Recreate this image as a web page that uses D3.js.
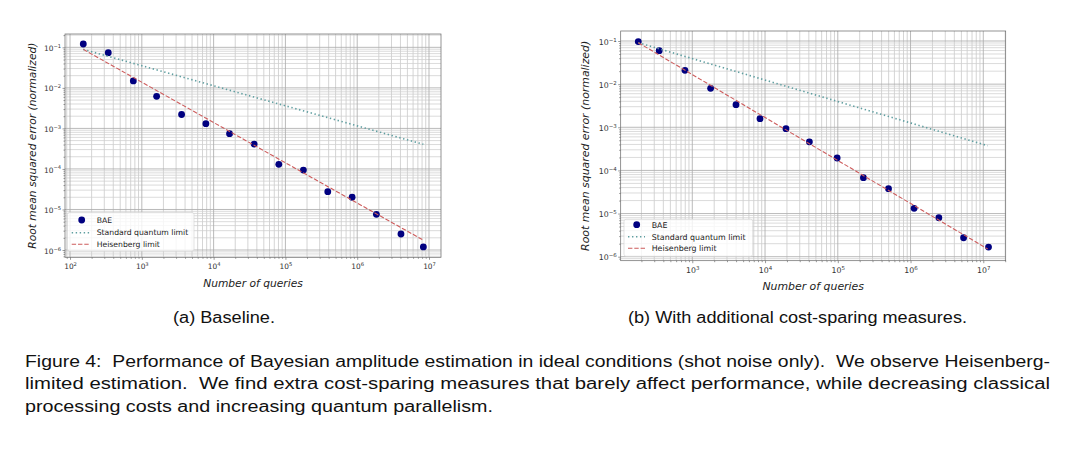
<!DOCTYPE html>
<html>
<head>
<meta charset="utf-8">
<script src="https://cdn.jsdelivr.net/npm/d3@7"></script>
<style>
  body { margin: 0; background: #fff; }
  svg { display: block; }
</style>
</head>
<body>
<svg id="fig" width="1080" height="461"></svg>
<script>
// values
var baselineQueries = [153, 341, 761, 1607, 3580, 7800, 16660, 36700, 80900, 178000, 389000, 849000, 1.85e6, 4.07e6, 8.34e6]
var baselineRmse = [0.121, 0.074, 0.0148, 0.0062, 0.0022, 0.00131, 0.00074, 0.00041, 0.00013, 9.4e-5, 2.75e-5, 2.0e-5, 7.6e-6, 2.48e-6, 1.19e-6]
var baselineSqlQueries = [153, 8.34e6]
var baselineSqlRmse = [0.089, 4.05e-4]
var baselineHeisQueries = [153, 8.1e6]
var baselineHeisRmse = [0.089, 1.8e-6]

var sparingQueries = [181, 351, 793, 1786, 3990, 8530, 19400, 40700, 98000, 225000, 498000, 1.12e6, 2.45e6, 5.36e6, 1.18e7]
var sparingRmse = [0.097, 0.0597, 0.0209, 0.0080, 0.00334, 0.00158, 0.00093, 0.00046, 0.000194, 6.8e-5, 3.77e-5, 1.32e-5, 8.0e-6, 2.75e-6, 1.67e-6]
var sparingSqlQueries = [181, 1.15e7]
var sparingSqlRmse = [0.0915, 3.74e-4]
var sparingHeisQueries = [181, 1.15e7]
var sparingHeisRmse = [0.0915, 1.51e-6]

var legendLabels = ['BAE', 'Standard quantum limit', 'Heisenberg limit']
var xTitle = 'Number of queries'
var yTitle = 'Root mean squared error (normalized)'
var subCaptions = ['(a) Baseline.', '(b) With additional cost-sparing measures.']
var captionLines = [
  'Figure 4:  Performance of Bayesian amplitude estimation in ideal conditions (shot noise only).  We observe Heisenberg-',
  'limited estimation.  We find extra cost-sparing measures that barely affect performance, while decreasing classical',
  'processing costs and increasing quantum parallelism.'
]

var navy = '#000080', sqlColor = '#5f9ea0', heisColor = '#cd5c5c'
var mono = 'DejaVu Sans, sans-serif'

var panels = [
  { queries: baselineQueries, rmse: baselineRmse,
    sql: [baselineSqlQueries, baselineSqlRmse], heis: [baselineHeisQueries, baselineHeisRmse],
    left: 65, right: 441, top: 34, bottom: 257.3,
    xDomain: [Math.pow(10, 1.930), Math.pow(10, 7.167)], yDomain: [Math.pow(10, -6.18), Math.pow(10, -0.671)],
    tickFont: 7.4, xTickY: 11.5, xTitleY: 286.5, yTitleX: 36, titleFont: 10.7,
    legend: { x: 67.5, y: 212.5, w: 126.5, h: 38.5, markX: 81.7, lineX0: 71.7, lineX1: 90, textX: 96.7, rows: [220, 232.7, 244.3], font: 7.7 } },
  { queries: sparingQueries, rmse: sparingRmse,
    sql: [sparingSqlQueries, sparingSqlRmse], heis: [sparingHeisQueries, sparingHeisRmse],
    left: 620.7, right: 1005.7, top: 31, bottom: 260.7,
    xDomain: [Math.pow(10, 2.016), Math.pow(10, 7.308)], yDomain: [Math.pow(10, -6.093), Math.pow(10, -0.768)],
    tickFont: 7.8, xTickY: 12.5, xTitleY: 289.5, yTitleX: 588.5, titleFont: 10.9,
    legend: { x: 624, y: 219.3, w: 128.7, h: 37, markX: 636.7, lineX0: 628, lineX1: 645, textX: 651.7, rows: [224.7, 236.7, 248.3], font: 7.9 } }
]

var svg = d3.select('#fig')
svg.append('rect').attr('width', 1080).attr('height', 461).attr('fill', '#fff')

var isMajor = (d) => Math.abs(Math.log10(d) - Math.round(Math.log10(d))) < 1e-6

var powerLabel = (text, d, size) => {
  var e = Math.round(Math.log10(d))
  text.text(null)
  text.append('tspan').text('10')
  text.append('tspan')
    .attr('font-size', size * 0.7)
    .attr('dy', -size * 0.42)
    .text(e < 0 ? '\u2212' + (-e) : String(e))
}

function drawPanel (p, idx) {
  var x = d3.scaleLog().domain(p.xDomain).range([p.left, p.right])
  var y = d3.scaleLog().domain(p.yDomain).range([p.bottom, p.top])
  var xAll = x.ticks(), yAll = y.ticks()
  var xMajor = xAll.filter(isMajor), xMinor = xAll.filter((d) => !isMajor(d))
  var yMajor = yAll.filter(isMajor), yMinor = yAll.filter((d) => !isMajor(d))

  var g = svg.append('g').attr('class', 'panel' + idx)
  var clipId = 'clip' + idx
  g.append('clipPath').attr('id', clipId)
    .append('rect').attr('x', p.left).attr('y', p.top)
    .attr('width', p.right - p.left).attr('height', p.bottom - p.top)

  // grid, minor first then major
  var grid = g.append('g').attr('clip-path', 'url(#' + clipId + ')')
  grid.selectAll('.vminor').data(xMinor).enter().append('line')
    .attr('x1', x).attr('x2', x).attr('y1', p.top).attr('y2', p.bottom)
    .attr('stroke', '#c6c6c6').attr('stroke-width', 0.75)
  grid.selectAll('.hminor').data(yMinor).enter().append('line')
    .attr('y1', y).attr('y2', y).attr('x1', p.left).attr('x2', p.right)
    .attr('stroke', '#cfcfcf').attr('stroke-width', 0.75)
  grid.selectAll('.vmajor').data(xMajor).enter().append('line')
    .attr('x1', x).attr('x2', x).attr('y1', p.top).attr('y2', p.bottom)
    .attr('stroke', '#adadad').attr('stroke-width', 0.85)
  grid.selectAll('.hmajor').data(yMajor).enter().append('line')
    .attr('y1', y).attr('y2', y).attr('x1', p.left).attr('x2', p.right)
    .attr('stroke', '#adadad').attr('stroke-width', 0.85)

  // axes
  var xAxis = g.append('g').attr('transform', 'translate(0,' + p.bottom + ')')
    .call(d3.axisBottom(x).tickValues(xMajor).tickSize(2.5).tickFormat(() => ''))
  xAxis.append('g')
    .call(d3.axisBottom(x).tickValues(xMinor).tickSize(1.5).tickFormat(() => ''))
  var yAxis = g.append('g').attr('transform', 'translate(' + p.left + ',0)')
    .call(d3.axisLeft(y).tickValues(yMajor).tickSize(2.5).tickFormat(() => ''))
  yAxis.append('g')
    .call(d3.axisLeft(y).tickValues(yMinor).tickSize(1.5).tickFormat(() => ''))
  g.selectAll('.domain').remove()
  g.selectAll('.tick line').attr('stroke', '#555').attr('stroke-width', 0.6)

  xAxis.selectAll(':scope > .tick text')
    .attr('y', p.xTickY).attr('dy', 0)
    .attr('font-family', mono).attr('font-size', p.tickFont).attr('fill', '#333')
    .each(function (d) { powerLabel(d3.select(this), d, p.tickFont) })
  yAxis.selectAll(':scope > .tick text')
    .attr('x', -4).attr('dy', p.tickFont * 0.42)
    .attr('font-family', mono).attr('font-size', p.tickFont).attr('fill', '#333')
    .each(function (d) { powerLabel(d3.select(this), d, p.tickFont) })

  // frame
  g.append('rect').attr('x', p.left).attr('y', p.top)
    .attr('width', p.right - p.left).attr('height', p.bottom - p.top)
    .attr('fill', 'none').attr('stroke', '#666').attr('stroke-width', 0.7)

  // scatter, then the two limit lines on top
  var plot = g.append('g').attr('clip-path', 'url(#' + clipId + ')')
  plot.selectAll('circle').data(p.queries).enter().append('circle')
    .attr('cx', (d) => x(d)).attr('cy', (d, i) => y(p.rmse[i]))
    .attr('r', 3.4).attr('fill', navy)

  var line = d3.line().x((d) => x(d[0])).y((d) => y(d[1]))
  var pairs = (s) => s[0].map((q, i) => [q, s[1][i]])
  plot.append('path').datum(pairs(p.sql)).attr('d', line)
    .attr('fill', 'none').attr('stroke', sqlColor).attr('stroke-width', 1.6)
    .attr('stroke-dasharray', '1.4,2.6')
  plot.append('path').datum(pairs(p.heis)).attr('d', line)
    .attr('fill', 'none').attr('stroke', heisColor).attr('stroke-width', 1.1)
    .attr('stroke-dasharray', '4.4,1.9')

  // axis titles
  g.append('text').attr('x', (p.left + p.right) / 2).attr('y', p.xTitleY)
    .attr('text-anchor', 'middle').attr('font-family', mono).attr('font-style', 'italic')
    .attr('font-size', p.titleFont).attr('fill', '#222').text(xTitle)
  g.append('text')
    .attr('transform', 'translate(' + p.yTitleX + ',' + (p.top + p.bottom) / 2 + ') rotate(-90)')
    .attr('text-anchor', 'middle').attr('font-family', mono).attr('font-style', 'italic')
    .attr('font-size', p.titleFont).attr('fill', '#222').text(yTitle)

  // legend
  var L = p.legend
  var leg = g.append('g')
  leg.append('rect').attr('x', L.x).attr('y', L.y).attr('width', L.w).attr('height', L.h)
    .attr('rx', 2).attr('fill', '#fff').attr('fill-opacity', 0.8)
    .attr('stroke', '#d6d6d6').attr('stroke-width', 0.7)
  leg.append('circle').attr('cx', L.markX).attr('cy', L.rows[0]).attr('r', 3.4).attr('fill', navy)
  leg.append('line').attr('x1', L.lineX0).attr('x2', L.lineX1).attr('y1', L.rows[1]).attr('y2', L.rows[1])
    .attr('stroke', sqlColor).attr('stroke-width', 1.6).attr('stroke-dasharray', '1.4,2.6')
  leg.append('line').attr('x1', L.lineX0).attr('x2', L.lineX1).attr('y1', L.rows[2]).attr('y2', L.rows[2])
    .attr('stroke', heisColor).attr('stroke-width', 1.1).attr('stroke-dasharray', '4.4,1.9')
  leg.selectAll('text').data(legendLabels).enter().append('text')
    .attr('x', L.textX).attr('y', (d, i) => L.rows[i]).attr('dy', L.font * 0.36)
    .attr('font-family', mono).attr('font-size', L.font).attr('fill', '#222')
    .text((d) => d)
}

panels.forEach(drawPanel)

// sub-captions and figure caption
var serif = 'Liberation Sans, Arial, sans-serif'
var subX = [173, 628], subW = [102, 339]
svg.selectAll('.sub').data(subCaptions).enter().append('text')
  .attr('x', (d, i) => subX[i]).attr('y', 323)
  .attr('textLength', (d, i) => subW[i]).attr('lengthAdjust', 'spacingAndGlyphs')
  .attr('font-family', serif).attr('font-size', 17.3).attr('fill', '#111')
  .text((d) => d)

var capY = [366.5, 389, 411.5], capW = [1025, 1025, 468]
svg.selectAll('.cap').data(captionLines).enter().append('text')
  .attr('x', 25).attr('y', (d, i) => capY[i])
  .attr('textLength', (d, i) => capW[i]).attr('lengthAdjust', 'spacingAndGlyphs')
  .attr('font-family', serif).attr('font-size', 17.3).attr('fill', '#111')
  .attr('xml:space', 'preserve')
  .text((d) => d)
</script>
</body>
</html>
